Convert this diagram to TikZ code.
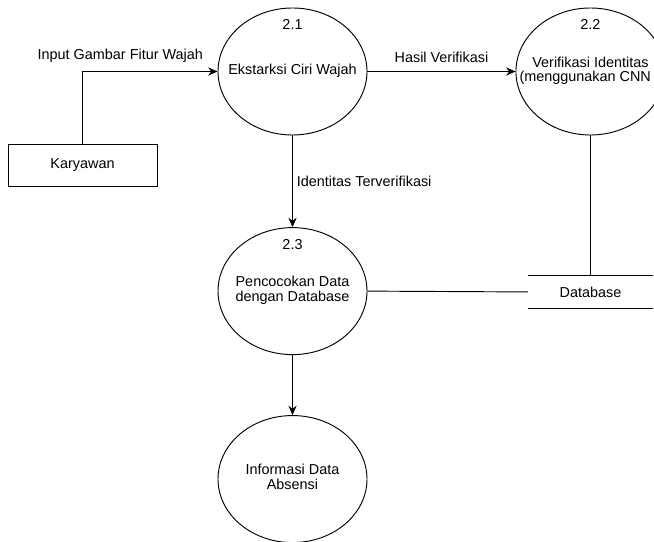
\documentclass[tikz,border=0pt]{standalone}
\usepackage{fontspec}
\setmainfont{Liberation Sans}
\usetikzlibrary{arrows.meta,positioning,shapes.geometric}
\newcommand{\proctext}[1]{\makebox[0pt]{\begin{tabular}{@{}c@{}}#1\end{tabular}}}

\begin{document}
\begin{tikzpicture}[x=0.03cm,y=-0.03cm,>={Stealth[length=8pt,width=7pt]},line width=0.8pt,
    font=\fontsize{12.3}{12.6}\selectfont]
  \tikzstyle{proc}=[draw,ellipse,inner sep=0pt,minimum width=4.47cm,minimum height=3.81cm]
  \tikzstyle{num}=[anchor=center,yshift=-0.52cm]
  \tikzstyle{entity}=[draw,minimum width=4.47cm,minimum height=1.26cm]
  \tikzstyle{store}=[minimum width=3.72cm,minimum height=0.96cm]
  \clip (0,0) rectangle (654,542);
  \node[proc,label={[num]north:2.1}] (ekstraksi) at (292.5,71.5) {\proctext{Ekstarksi Ciri Wajah}};
  \node[proc,label={[num]north:2.2},right=4.44cm of ekstraksi] (verifikasi) {\proctext{Verifikasi Identitas\\(menggunakan CNN\hspace*{9pt}}};
  \node[proc,label={[num]north:2.3},below=2.75cm of ekstraksi] (pencocokan) {\proctext{Pencocokan Data\\dengan Database}};
  \node[proc,below=1.8cm of pencocokan] (informasi) {\proctext{Informasi Data\\Absensi}};
  \node[entity] (karyawan) at (82.5,165) {Karyawan};
  \node[store,below=4.2cm of verifikasi] (db) {Database};
  \draw (db.north west) -- (db.north east) (db.south west) -- (db.south east);
  \draw[->] (karyawan.north) |- node[pos=0.64,above=4pt] {Input Gambar Fitur Wajah} (ekstraksi.west);
  \draw[->] (ekstraksi.east) -- node[above=4pt] {Hasil Verifikasi} (verifikasi.west);
  \draw[->] (ekstraksi.south) -- node[right] {Identitas Terverifikasi} (pencocokan.north);
  \draw (verifikasi.south) -- (db.north);
  \draw (pencocokan.east) -- (db.west);
  \draw[->] (pencocokan.south) -- (informasi.north);
\end{tikzpicture}
\end{document}
